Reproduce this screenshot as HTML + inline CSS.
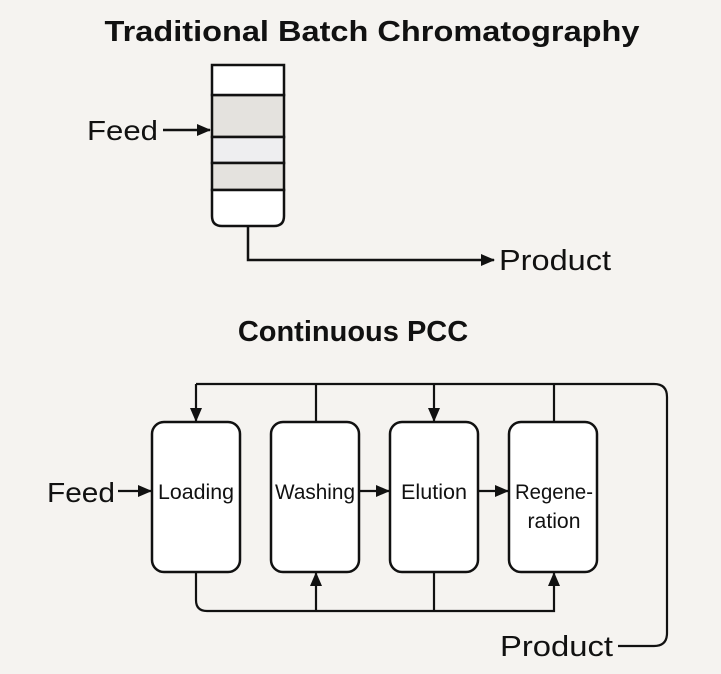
<!DOCTYPE html>
<html><head><meta charset="utf-8"><style>
html,body{margin:0;padding:0;background:#f5f3f0;}
svg{display:block;font-family:"Liberation Sans",sans-serif;}
</style></head><body>
<svg width="721" height="674" viewBox="0 0 721 674" xmlns="http://www.w3.org/2000/svg">
<defs><marker id="a" markerWidth="14" markerHeight="14" refX="13" refY="7" orient="auto" markerUnits="userSpaceOnUse"><path d="M0,1 L14,7 L0,13 z" fill="#111"/></marker></defs>
<rect width="721" height="674" fill="#f5f3f0"/>
<text x="372" y="41" font-size="29" font-weight="bold" text-anchor="middle" textLength="535" lengthAdjust="spacingAndGlyphs" fill="#111">Traditional Batch Chromatography</text>
<g stroke="#111" stroke-width="2.5">
<rect x="212" y="95" width="72" height="42" fill="#e4e2de"/>
<rect x="212" y="137" width="72" height="26" fill="#eeeef0"/>
<rect x="212" y="163" width="72" height="27" fill="#e4e2de"/>
<path d="M212,65 H284 V95 H212 Z" fill="#fff"/>
<path d="M212,190 H284 V216 Q284,226 274,226 H222 Q212,226 212,216 Z" fill="#fff"/>
</g>
<text x="87" y="140" font-size="28" fill="#111" textLength="71" lengthAdjust="spacingAndGlyphs">Feed</text>
<line x1="163" y1="130" x2="210" y2="130" stroke="#111" stroke-width="2.5" marker-end="url(#a)"/>
<polyline points="248,226 248,260 494,260" fill="none" stroke="#111" stroke-width="2.5" marker-end="url(#a)"/>
<text x="499" y="270" font-size="29" fill="#111" textLength="112" lengthAdjust="spacingAndGlyphs">Product</text>
<text x="353" y="341" font-size="29" font-weight="bold" text-anchor="middle" fill="#111">Continuous PCC</text>
<g stroke="#111" stroke-width="2.5" fill="#fff">
<rect x="152" y="422" width="88" height="150" rx="12"/>
<rect x="271" y="422" width="88" height="150" rx="12"/>
<rect x="390" y="422" width="88" height="150" rx="12"/>
<rect x="509" y="422" width="88" height="150" rx="12"/>
</g>
<g font-size="21" fill="#111" text-anchor="middle">
<text x="196" y="499" textLength="76" lengthAdjust="spacingAndGlyphs">Loading</text>
<text x="315" y="499" textLength="80" lengthAdjust="spacingAndGlyphs">Washing</text>
<text x="434" y="499" textLength="66" lengthAdjust="spacingAndGlyphs">Elution</text>
<text x="554" y="499" textLength="78" lengthAdjust="spacingAndGlyphs">Regene-</text>
<text x="554" y="528" textLength="53" lengthAdjust="spacingAndGlyphs">ration</text>
</g>
<text x="47" y="502" font-size="28" fill="#111" textLength="68" lengthAdjust="spacingAndGlyphs">Feed</text>
<g stroke="#111" stroke-width="2.2" fill="none">
<line x1="118" y1="491" x2="151" y2="491" marker-end="url(#a)"/>
<line x1="359" y1="491" x2="389" y2="491" marker-end="url(#a)"/>
<line x1="478" y1="491" x2="508" y2="491" marker-end="url(#a)"/>
<path d="M196,384 H654 Q667,384 667,397 V633 Q667,646 654,646 H618"/>
<line x1="196" y1="384" x2="196" y2="421" marker-end="url(#a)"/>
<line x1="316" y1="384" x2="316" y2="422"/>
<line x1="554" y1="384" x2="554" y2="422"/>
<line x1="434" y1="384" x2="434" y2="421" marker-end="url(#a)"/>
<path d="M196,572 V600 Q196,611 207,611 H554 V573" marker-end="url(#a)"/>
<line x1="316" y1="611" x2="316" y2="573" marker-end="url(#a)"/>
<line x1="434" y1="572" x2="434" y2="611"/>
</g>
<text x="500" y="656" font-size="29" fill="#111" textLength="113" lengthAdjust="spacingAndGlyphs">Product</text>
</svg>
</body></html>
